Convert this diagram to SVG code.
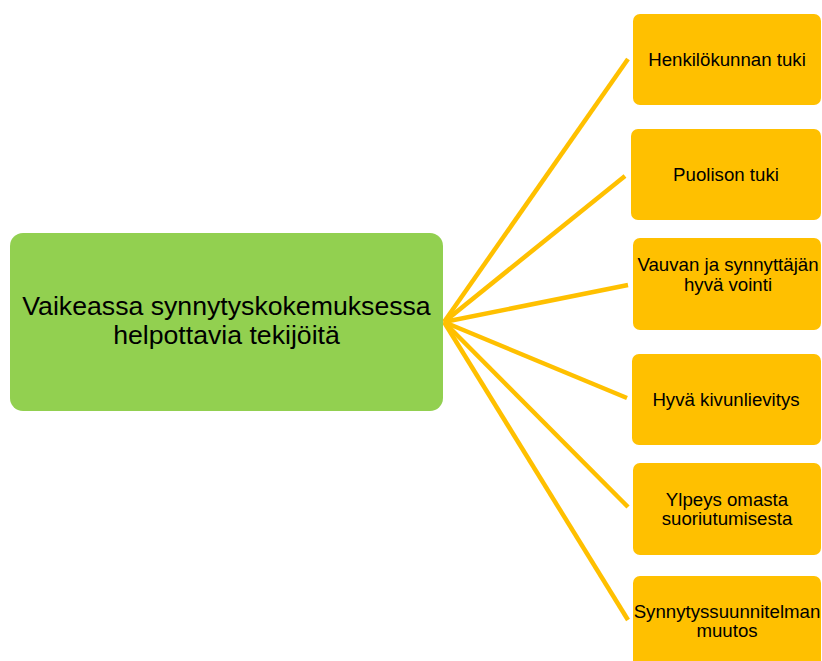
<svg xmlns="http://www.w3.org/2000/svg" width="822" height="661" viewBox="0 0 822 661">
<style>
.leaf{fill:#FFC000;}
.root{fill:#92D050;}
.t{font-family:"Liberation Sans",Arial,sans-serif;fill:#000;text-anchor:middle;}
.ts{font-size:18.67px;}
.tl{font-size:26.67px;}
.c{stroke:#FFC000;stroke-width:4.5;fill:none;stroke-linecap:butt;}
</style>
<rect width="822" height="661" fill="#fff"/>
<g id="connectors">
<line class="c" x1="444" y1="322" x2="628" y2="59"/>
<line class="c" x1="444" y1="322" x2="625" y2="176"/>
<line class="c" x1="444" y1="322" x2="628" y2="285"/>
<line class="c" x1="444" y1="322" x2="627" y2="398"/>
<line class="c" x1="444" y1="322" x2="628" y2="507"/>
<line class="c" x1="444" y1="322" x2="628" y2="620"/>
</g>
<g id="root">
<rect class="root" x="10" y="233" width="433" height="178" rx="13"/>
<text class="t tl" x="226.5" y="315">Vaikeassa synnytyskokemuksessa</text>
<text class="t tl" x="226.5" y="344">helpottavia tekijöitä</text>
</g>
<g id="n1">
<rect class="leaf" x="633" y="14" width="188" height="91" rx="7"/>
<text class="t ts" x="727" y="66">Henkilökunnan tuki</text>
</g>
<g id="n2">
<rect class="leaf" x="631" y="129" width="190" height="91" rx="7"/>
<text class="t ts" x="726" y="181">Puolison tuki</text>
</g>
<g id="n3">
<rect class="leaf" x="633" y="238" width="188" height="92" rx="7"/>
<text class="t ts" x="728" y="271">Vauvan ja synnyttäjän</text>
<text class="t ts" x="728" y="291">hyvä vointi</text>
</g>
<g id="n4">
<rect class="leaf" x="632" y="354" width="189" height="91" rx="7"/>
<text class="t ts" x="726" y="406">Hyvä kivunlievitys</text>
</g>
<g id="n5">
<rect class="leaf" x="633" y="463" width="188" height="92" rx="7"/>
<text class="t ts" x="727" y="506">Ylpeys omasta</text>
<text class="t ts" x="727" y="525">suoriutumisesta</text>
</g>
<g id="n6">
<rect class="leaf" x="633" y="576" width="188" height="95" rx="7"/>
<text class="t ts" x="727" y="618">Synnytyssuunnitelman</text>
<text class="t ts" x="727" y="637">muutos</text>
</g>
</svg>
